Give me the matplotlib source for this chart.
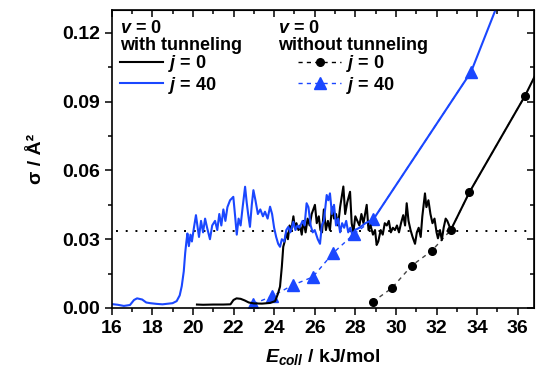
import numpy as np
import matplotlib.pyplot as plt
from matplotlib.lines import Line2D
from matplotlib.ticker import MultipleLocator

plt.rcParams['font.family'] = 'Liberation Sans'
plt.rcParams['font.weight'] = 'bold'
plt.rcParams['axes.labelweight'] = 'bold'
plt.rcParams['mathtext.fontset'] = 'custom'
plt.rcParams['mathtext.rm'] = 'Liberation Sans:bold'
plt.rcParams['mathtext.it'] = 'Liberation Sans:italic:bold'
plt.rcParams['mathtext.bf'] = 'Liberation Sans:bold'

# j = 40, with tunneling
e_j40_tun = [16.0, 16.3, 16.6, 16.9, 17.1, 17.25, 17.5, 17.7, 17.9, 18.2, 18.5, 18.8, 19.0, 19.2,
             19.35, 19.45, 19.55, 19.62, 19.68, 19.73, 19.8, 19.88, 19.95, 20.05, 20.15, 20.22,
             20.3, 20.4, 20.5, 20.6, 20.7, 20.84, 20.95, 21.09, 21.2, 21.3, 21.4, 21.5, 21.6,
             21.7, 21.83, 21.99, 22.08, 22.16, 22.25, 22.35, 22.45, 22.57, 22.65, 22.72, 22.81,
             22.9, 22.98, 23.08, 23.2, 23.32, 23.45, 23.55, 23.68, 23.8, 23.9, 24.0, 24.1, 24.2,
             24.29, 24.38, 24.5, 24.6, 24.7, 24.8, 24.95, 25.05, 25.15, 25.25, 25.4, 25.5, 25.6,
             25.69, 25.8, 25.9, 26.0, 26.15, 26.26, 26.35, 26.45, 26.59, 26.67, 26.75, 26.85,
             26.95, 27.05, 27.15, 27.25, 27.35, 27.45, 27.55, 27.65, 27.75, 27.85, 27.99, 28.2,
             28.5, 28.89, 33.7, 34.9, 35.2]
s_j40_tun = [0.0017, 0.0014, 0.0009, 0.0013, 0.0035, 0.0042, 0.0037, 0.0024, 0.0021, 0.0018,
             0.0016, 0.0019, 0.0021, 0.0030, 0.0055, 0.0095, 0.016, 0.024, 0.029, 0.0325, 0.027,
             0.032, 0.029, 0.035, 0.0405, 0.036, 0.031, 0.038, 0.033, 0.039, 0.035, 0.030, 0.036,
             0.038, 0.034, 0.041, 0.036, 0.043, 0.038, 0.044, 0.047, 0.0485, 0.040, 0.032, 0.039,
             0.036, 0.044, 0.0529, 0.046, 0.041, 0.0354, 0.045, 0.0514, 0.047, 0.041, 0.043,
             0.040, 0.042, 0.039, 0.0442, 0.041, 0.035, 0.031, 0.028, 0.0267, 0.030, 0.029,
             0.034, 0.0354, 0.033, 0.0376, 0.034, 0.036, 0.035, 0.038, 0.036, 0.0457, 0.044,
             0.036, 0.033, 0.034, 0.030, 0.028, 0.036, 0.038, 0.0493, 0.047, 0.050, 0.041, 0.045,
             0.036, 0.039, 0.033, 0.037, 0.035, 0.038, 0.033, 0.035, 0.032, 0.034, 0.035, 0.037,
             0.0387, 0.103, 0.130, 0.136]

# j = 0, with tunneling
e_j0_tun = [20.2, 20.5, 21.0, 21.5, 21.85, 22.0, 22.15, 22.35, 22.55, 22.75, 23.0, 23.4, 23.8,
            24.05, 24.18, 24.29, 24.38, 24.45, 24.52, 24.6, 24.68, 24.76, 24.85, 24.95, 25.02,
            25.1, 25.2, 25.28, 25.36, 25.45, 25.55, 25.65, 25.75, 25.85, 26.01, 26.1, 26.2,
            26.28, 26.36, 26.45, 26.55, 26.65, 26.75, 26.85, 26.95, 27.05, 27.15, 27.25, 27.41,
            27.5, 27.6, 27.74, 27.82, 27.9, 28.0, 28.1, 28.2, 28.3, 28.4, 28.56, 28.65, 28.75,
            28.87, 28.97, 29.05, 29.13, 29.25, 29.35, 29.45, 29.55, 29.65, 29.75, 29.85, 29.95,
            30.05, 30.15, 30.25, 30.36, 30.45, 30.53, 30.62, 30.72, 30.82, 30.94, 31.03, 31.12,
            31.22, 31.3, 31.43, 31.5, 31.6, 31.7, 31.8, 31.9, 32.0, 32.07, 32.17, 32.26, 32.35,
            32.45, 32.53, 32.62, 32.7, 33.62, 36.36, 37.0]
s_j0_tun = [0.0015, 0.0014, 0.0015, 0.0015, 0.0016, 0.0035, 0.0042, 0.0040, 0.0033, 0.0024,
            0.0020, 0.0019, 0.0022, 0.0030, 0.006, 0.0093, 0.018, 0.0267, 0.029, 0.033, 0.030,
            0.036, 0.034, 0.040, 0.035, 0.037, 0.034, 0.036, 0.032, 0.038, 0.033, 0.039, 0.036,
            0.041, 0.045, 0.037, 0.040, 0.034, 0.033, 0.043, 0.034, 0.038, 0.034, 0.044, 0.039,
            0.041, 0.036, 0.044, 0.053, 0.041, 0.046, 0.0507, 0.037, 0.033, 0.040, 0.038, 0.036,
            0.041, 0.037, 0.045, 0.034, 0.036, 0.032, 0.034, 0.0275, 0.029, 0.034, 0.032, 0.037,
            0.036, 0.038, 0.033, 0.035, 0.034, 0.036, 0.033, 0.037, 0.0405, 0.036, 0.0457, 0.038,
            0.034, 0.031, 0.028, 0.033, 0.035, 0.031, 0.040, 0.050, 0.044, 0.047, 0.041, 0.037,
            0.039, 0.033, 0.0304, 0.034, 0.0296, 0.035, 0.039, 0.038, 0.036, 0.034, 0.0505,
            0.0926, 0.104]

# without tunneling
e_j0_notun = [28.86, 29.79, 30.78, 31.76, 32.7, 33.62, 36.36]
s_j0_notun = [0.0027, 0.0086, 0.0185, 0.0249, 0.034, 0.0505, 0.0926]
e_j40_notun = [22.98, 23.92, 24.92, 25.9, 26.92, 27.94, 28.89, 33.7]
s_j40_notun = [0.0018, 0.0052, 0.010, 0.0135, 0.0241, 0.0323, 0.0387, 0.103]

threshold = 0.0336
blue = '#1a47ff'

fig = plt.figure(figsize=(5.37, 3.74), dpi=100)
ax = fig.add_axes([0.208, 0.1765, 0.7864, 0.7967])

ax.plot([16.2, 37], [threshold, threshold], color='black', lw=1.4, ls=(0, (1, 4)))
ax.plot(e_j0_notun, s_j0_notun, color='#444444', lw=1, ls=(0, (3, 3)), marker='o', ms=5.5,
        mfc='black', mec='black')
ax.plot(e_j40_notun, s_j40_notun, color=blue, lw=1, ls=(0, (3, 3)), marker='^', ms=8,
        mfc=blue, mec=blue)
ax.plot(e_j0_tun, s_j0_tun, color='black', lw=1.5)
ax.plot(e_j40_tun, s_j40_tun, color=blue, lw=1.5)

ax.set_xlim(16, 36.8)
ax.set_ylim(0, 0.13)
ax.xaxis.set_major_locator(MultipleLocator(2))
ax.xaxis.set_minor_locator(MultipleLocator(1))
ax.yaxis.set_major_locator(MultipleLocator(0.03))
ax.yaxis.set_minor_locator(MultipleLocator(0.015))
ax.yaxis.set_major_formatter(plt.FormatStrFormatter('%.2f'))
ax.tick_params(which='both', direction='out', width=1.1, labelsize=14)
ax.tick_params(which='major', length=5)
ax.tick_params(which='minor', length=3)
for sp in ax.spines.values():
    sp.set_linewidth(1.2)

top = ax.secondary_xaxis('top')
top.xaxis.set_major_locator(MultipleLocator(2))
top.xaxis.set_minor_locator(MultipleLocator(1))
top.tick_params(which='both', direction='in', width=1.1, labeltop=False)
top.tick_params(which='major', length=5)
top.tick_params(which='minor', length=3)
right = ax.secondary_yaxis('right')
right.yaxis.set_major_locator(MultipleLocator(0.03))
right.yaxis.set_minor_locator(MultipleLocator(0.015))
right.tick_params(which='both', direction='in', width=1.1, labelright=False)
right.tick_params(which='major', length=5)
right.tick_params(which='minor', length=3)

ax.set_xlabel('$E_{coll}$ / kJ/mol', fontsize=14, labelpad=7)
ax.set_ylabel('σ / Å²', fontsize=14, labelpad=12)

ax.text(0.02, 0.965, '$v$ = 0\nwith tunneling', transform=ax.transAxes, ha='left', va='top',
        fontsize=13, linespacing=0.95)
ax.text(0.394, 0.965, '$v$ = 0\nwithout tunneling', transform=ax.transAxes, ha='left', va='top',
        fontsize=13, linespacing=0.95)

h1 = [Line2D([], [], color='black', lw=1.5), Line2D([], [], color=blue, lw=1.5)]
leg1 = ax.legend(h1, ['$j$ = 0', '$j$ = 40'], loc='upper left', bbox_to_anchor=(0.02, 0.855),
                 frameon=False, fontsize=13, borderpad=0, borderaxespad=0, handlelength=2.4,
                 handletextpad=0.25, labelspacing=0.02)
ax.add_artist(leg1)
h2 = [Line2D([], [], color='black', lw=1, ls=(0, (3, 3)), marker='o', ms=5.5),
      Line2D([], [], color=blue, lw=1, ls=(0, (3, 3)), marker='^', ms=8)]
ax.legend(h2, ['$j$ = 0', '$j$ = 40'], loc='upper left', bbox_to_anchor=(0.441, 0.855),
          frameon=False, fontsize=13, borderpad=0, borderaxespad=0, handlelength=2.4,
          handletextpad=0.25, labelspacing=0.02)

fig.savefig('out.png', dpi=100)
